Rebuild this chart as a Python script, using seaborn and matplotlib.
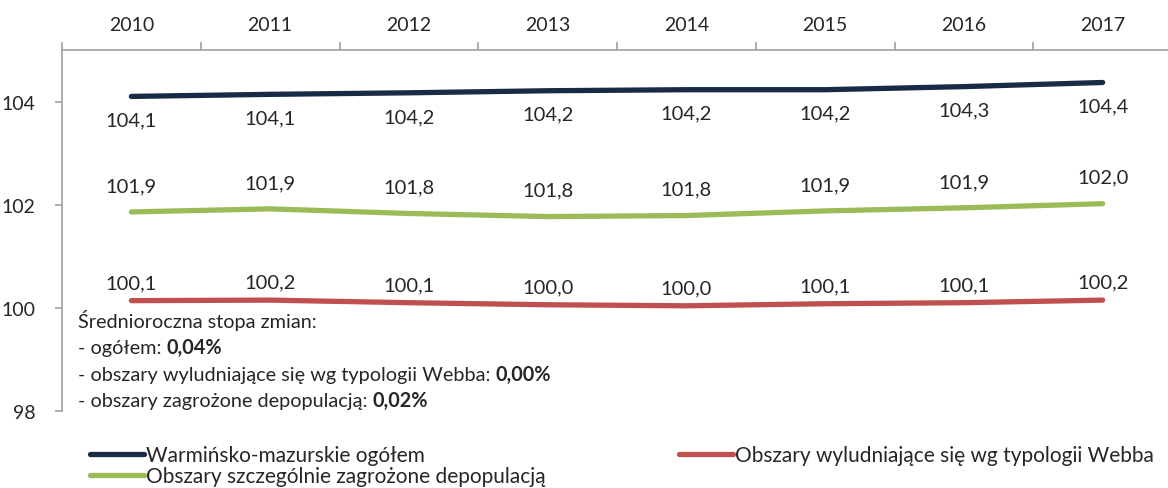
import matplotlib
matplotlib.use('Agg')
import matplotlib.pyplot as plt
import seaborn as sns
import pandas as pd

years = ['2010', '2011', '2012', '2013', '2014', '2015', '2016', '2017']
ogolem = [104.10, 104.14, 104.17, 104.21, 104.23, 104.23, 104.29, 104.37]
depopulacja = [101.86, 101.92, 101.83, 101.77, 101.79, 101.88, 101.94, 102.02]
webb = [100.14, 100.15, 100.10, 100.06, 100.04, 100.08, 100.10, 100.15]

labels_ogolem = ['104,1', '104,1', '104,2', '104,2', '104,2', '104,2', '104,3', '104,4']
labels_depop = ['101,9', '101,9', '101,8', '101,8', '101,8', '101,9', '101,9', '102,0']
labels_webb = ['100,1', '100,2', '100,1', '100,0', '100,0', '100,1', '100,1', '100,2']

names = ['Warmińsko-mazurskie ogółem',
         'Obszary szczególnie zagrożone depopulacją',
         'Obszary wyludniające się wg typologii Webba']
colors = ['#182A45', '#9BBB59', '#C0504D']

sns.set_style('white')
plt.rcParams['font.family'] = ['Lato', 'DejaVu Sans']

rows = []
for name, vals in zip(names, [ogolem, depopulacja, webb]):
    for i, v in enumerate(vals):
        rows.append({'x': i, 'rok': years[i], 'wartosc': v, 'seria': name})
df = pd.DataFrame(rows)

fig = plt.figure(figsize=(11.68, 4.89), dpi=100)
ax = fig.add_axes([62 / 1168, 1 - 412 / 489, 1110 / 1168, 361 / 489])

sns.lineplot(data=df, x='x', y='wartosc', hue='seria', hue_order=names,
             palette=colors, linewidth=3.8, ax=ax, legend=False,
             solid_capstyle='round')

ax.set_xlim(-0.5, 7.5)
ax.set_ylim(98, 105)
ax.set_yticks([98, 100, 102, 104])
ax.set_yticklabels(['98', '100', '102', '104'])
ax.xaxis.tick_top()
ax.set_xticks(range(8))
ax.set_xticklabels(years)
ax.set_xticks([i + 0.5 for i in range(-1, 8)], minor=True)
ax.tick_params(axis='x', which='major', length=0, pad=12, labelsize=14)
ax.tick_params(axis='x', which='minor', length=6, color='#A0A0A0', width=1.2, top=True)
ax.tick_params(axis='y', length=5, color='#A0A0A0', width=1.2, left=True, labelsize=14, pad=14)
ax.set_xlabel('')
ax.set_ylabel('')
for s in ['bottom', 'right']:
    ax.spines[s].set_visible(False)
for s in ['top', 'left']:
    ax.spines[s].set_color('#A0A0A0')
    ax.spines[s].set_linewidth(1.2)

for vals, labs, off in [(ogolem, labels_ogolem, -17),
                        (depopulacja, labels_depop, 19),
                        (webb, labels_webb, 13)]:
    for i, (v, l) in enumerate(zip(vals, labs)):
        ax.annotate(l, (i, v), xytext=(0, off), textcoords='offset points',
                    ha='center', va='center', fontsize=14.5)

# tekst ze srednioroczna stopa zmian
note = [('Średnioroczna stopa zmian:', ''),
        ('- ogółem: ', '0,04%'),
        ('- obszary wyludniające się wg typologii Webba: ', '0,00%'),
        ('- obszary zagrożone depopulacją: ', '0,02%')]
fig.canvas.draw()
for k, (normal, bold) in enumerate(note):
    ypix = 489 - (328 + k * 26.3)
    t = fig.text(78 / 1168, ypix / 489, normal, fontsize=14.3, va='baseline')
    if bold:
        bb = t.get_window_extent(renderer=fig.canvas.get_renderer())
        fig.text(bb.x1 / 1168, ypix / 489, bold, fontsize=14.3, va='baseline', weight='bold')

handles = [plt.Line2D([], [], color=c, linewidth=3.8, solid_capstyle='round') for c in colors]
fig.legend(handles, names, loc='upper left', bbox_to_anchor=(90 / 1168, 1 - 446 / 489),
           ncol=2, frameon=False, fontsize=15, handlelength=2.6, handletextpad=0.1,
           columnspacing=6.4, labelspacing=0.05, borderaxespad=0, borderpad=0)

fig.savefig('out.png', dpi=100)
